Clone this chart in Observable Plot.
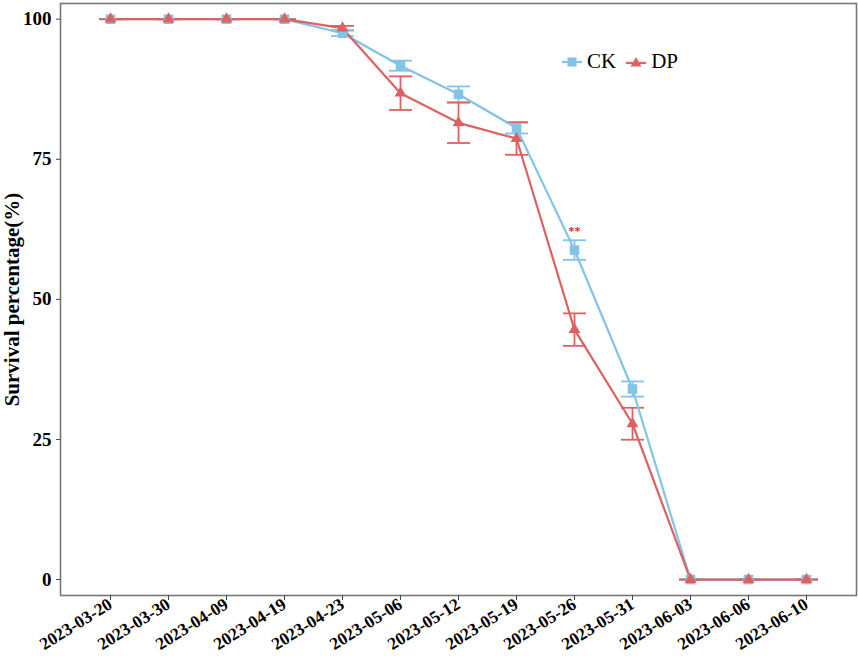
<!DOCTYPE html>
<html>
<head>
<meta charset="utf-8">
<script src="https://cdn.jsdelivr.net/npm/d3@7"></script>
<script src="https://cdn.jsdelivr.net/npm/@observablehq/plot@0.6"></script>
<style>
  html, body { margin: 0; padding: 0; background: #fff; }
  #wrap { position: relative; width: 858px; height: 660px; }
  #legend { position: absolute; left: 560px; top: 49px; font-family: "Liberation Serif", serif; font-size: 21px; display: flex; align-items: center; gap: 3px; color: #000; }
  #legend span { margin-right: 5px; }
  #chart g[aria-label="y-axis tick label"] { font-size: 19px !important; font-weight: bold; }
  #chart g[aria-label="x-axis tick label"] { font-size: 17.5px !important; font-weight: bold; }
  #chart g[aria-label="y-axis label"] { font-size: 21px !important; font-weight: bold; }
</style>
</head>
<body>
<div id="wrap">
  <div id="chart"></div>
  <div id="legend">
    <svg width="24" height="20"><line x1="2" x2="22" y1="10" y2="10" stroke="#82C3E8" stroke-width="2.2"/><rect x="7.5" y="5.5" width="9" height="9" fill="#82C3E8"/></svg><span>CK</span>
    <svg width="24" height="20"><line x1="2" x2="22" y1="11" y2="11" stroke="#DE6161" stroke-width="2.2"/><path d="M12,5 L17.5,14.5 L6.5,14.5 Z" fill="#DE6161"/></svg><span>DP</span>
  </div>
</div>
<script>
const dates = ["2023-03-20","2023-03-30","2023-04-09","2023-04-19","2023-04-23","2023-05-06","2023-05-12","2023-05-19","2023-05-26","2023-05-31","2023-06-03","2023-06-06","2023-06-10"];
const ckMean = [100,100,100,100,97.5,91.7,86.6,80.6,58.8,34.0,0,0,0];
const ckErr  = [0,0,0,0,0.5,0.9,1.4,1.0,1.75,1.35,0,0,0];
const dpMean = [100,100,100,100,98.4,86.8,81.5,78.7,44.6,27.8,0,0,0];
const dpErr  = [0,0,0,0,0.4,3.0,3.6,2.9,2.9,2.85,0,0,0];
const groups = ["CK","DP"];
const colors = ["#82C3E8","#DE6161"];
const yTicks = [0,25,50,75,100];
const sigDates = ["2023-05-26"];
const sigLabels = ["**"];

const rows = [];
dates.forEach((d,i) => {
  rows.push({date:d, group:"CK", mean:ckMean[i], lo:ckMean[i]-ckErr[i], hi:ckMean[i]+ckErr[i]});
});
dates.forEach((d,i) => {
  rows.push({date:d, group:"DP", mean:dpMean[i], lo:dpMean[i]-dpErr[i], hi:dpMean[i]+dpErr[i]});
});
const sig = sigDates.map((d,i) => {
  const k = dates.indexOf(d);
  return {date:d, y:ckMean[k]+ckErr[k], label:sigLabels[i]};
});

const capSymbol = {
  draw(context) {
    context.moveTo(-11.5, 0);
    context.lineTo(11.5, 0);
  }
};

const chart = Plot.plot({
  width: 858,
  height: 660,
  marginLeft: 60,
  marginRight: 2,
  marginTop: 3,
  marginBottom: 65,
  style: {fontFamily: "Liberation Serif, serif", background: "#fff"},
  x: {type: "point", domain: dates, padding: 0.82},
  y: {domain: [-2.85, 102.8]},
  color: {domain: groups, range: colors},
  marks: [
    Plot.ruleX(rows, {x: "date", y1: "lo", y2: "hi", stroke: "group", strokeWidth: 1.8}),
    Plot.dot(rows, {x: "date", y: "lo", stroke: "group", symbol: capSymbol, strokeWidth: 1.8, r: 5}),
    Plot.dot(rows, {x: "date", y: "hi", stroke: "group", symbol: capSymbol, strokeWidth: 1.8, r: 5}),
    Plot.line(rows, {x: "date", y: "mean", stroke: "group", z: "group", strokeWidth: 2.2}),
    Plot.dot(rows.filter(r => r.group === "CK"), {x: "date", y: "mean", fill: "group", symbol: "square", r: 5.4}),
    Plot.dot(rows.filter(r => r.group === "DP"), {x: "date", y: "mean", fill: "group", symbol: "triangle", r: 4.4}),
    Plot.text(sig, {x: "date", y: "y", text: "label", fill: "#E8231E", dy: -9, fontSize: 12, fontWeight: "bold"}),
    Plot.frame({stroke: "#777", strokeWidth: 1.6}),
    Plot.axisY(yTicks, {
      tickSize: 4, tickPadding: 5, stroke: "#444",
      fill: "#000", fontSize: 19, fontWeight: "bold",
      label: "Survival percentage(%)", labelAnchor: "center", labelArrow: "none", labelOffset: 56
    }),
    Plot.axisX({
      tickSize: 5, tickPadding: 2, stroke: "#444", tickRotate: -32,
      fill: "#000", fontSize: 17.5, fontWeight: "bold", label: null
    })
  ]
});
document.getElementById("chart").appendChild(chart);
</script>
</body>
</html>
